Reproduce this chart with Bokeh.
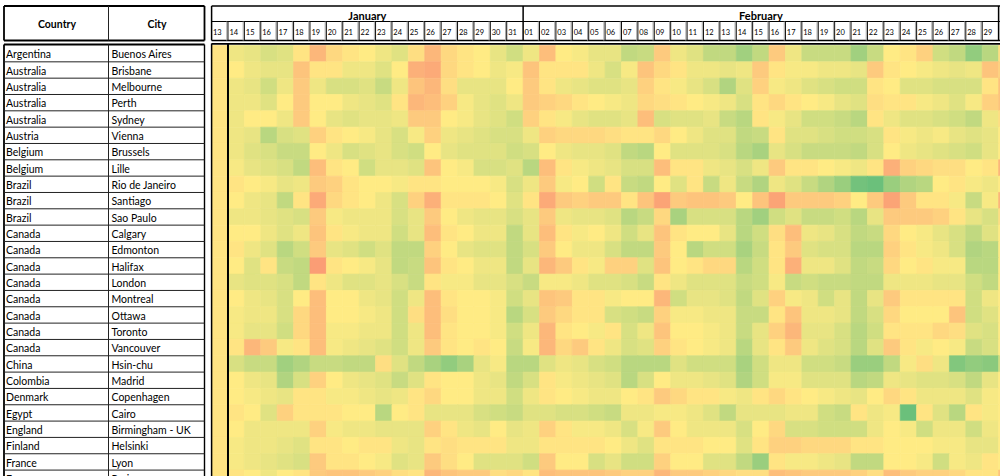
from bokeh.plotting import figure
from bokeh.models import Range1d, ColumnDataSource
from bokeh.embed import file_html
from bokeh.resources import INLINE
from bokeh.core.properties import value

# ---------------- data ----------------
countries = ["Argentina", "Australia", "Australia", "Australia", "Australia", "Austria",
             "Belgium", "Belgium", "Brazil", "Brazil", "Brazil", "Canada", "Canada",
             "Canada", "Canada", "Canada", "Canada", "Canada", "Canada", "China",
             "Colombia", "Denmark", "Egypt", "England", "Finland", "France", "France"]
cities = ["Buenos Aires", "Brisbane", "Melbourne", "Perth", "Sydney", "Vienna",
          "Brussels", "Lille", "Rio de Janeiro", "Santiago", "Sao Paulo", "Calgary",
          "Edmonton", "Halifax", "London", "Montreal", "Ottawa", "Toronto", "Vancouver",
          "Hsin-chu", "Madrid", "Copenhagen", "Cairo", "Birmingham - UK", "Helsinki",
          "Lyon", "Paris"]
months = ["January", "February"]
month_first_col = [0, 19]
month_last_col = [19, 48]
day_labels = ["13", "14", "15", "16", "17", "18", "19", "20", "21", "22", "23", "24",
              "25", "26", "27", "28", "29", "30", "31",
              "01", "02", "03", "04", "05", "06", "07", "08", "09", "10", "11", "12",
              "13", "14", "15", "16", "17", "18", "19", "20", "21", "22", "23", "24",
              "25", "26", "27", "28", "29",
              "01"]

# relative index per day (negative = cooler/green, positive = warmer/orange)
buenos_aires = [0.5, -1, -1.5, -2.5, -2, 0.5, 4, 1.5, 0.5, 0, -1, -2, 1, 4, 1.5, 0.5, 0, -1.5, -3,
                -1, 3.5, 0, -0.5, -1.5, -1.5, -4, -3.5, 2.5, -1, -2, -4, -4, -6, -4, 2.5, -1, -3.5, -3.5, -3.5, -6, -3.5, 0, 0.5, 2, -3, -4, -7, -4.5,
                1]
brisbane = [0.5, 0, -1, -1.5, -1.5, 3, 0.5, 0.5, -1, -1, -2, 0, 4.5, 5, 1.5, 0.5, 0, -1, -0.5,
            3, 0.5, 0.5, 0.5, -1, -2.5, -0.5, 3, 1.5, 0.5, -1, -1, -1.5, -1, 2.5, 0.5, -0.5, -0.5, -1, -1, -1.5, 2.5, 0.5, 0, -0.5, -1, -1.5, -1, 3,
            2]
melbourne = [0.5, -1, -1.5, -3, -1, 2.5, -1, -2.5, -2.5, -2, -3.5, -1, 3, 4, 1, -1.5, -1.5, -1.5, 0,
             2.5, 0.5, -1, -1.5, -2, -2, -1.5, 2, 0.5, -0.5, -1.5, -2.5, -5, -2, 2, -0.5, -1, -2, -2.5, -3, -3, 0.5, 0, -2, -2, -2.5, -2.5, -2.5, 0.5,
             3]
perth = [0.5, -1, -1, -2, 0, 2.5, 0, 0, -1, -1.5, -2, 0.5, 4, 3.5, 2, -0.5, -1.5, -2, -1,
         2.5, 2, 1.5, 0.5, 0, -0.5, -1, 1.5, 1, 0.5, 0, -0.5, -1, -2.5, 0.5, 1.5, 0.5, 0, -0.5, -1.5, -2, 1, 0.5, 0.5, -0.5, -1, -2, -0.5, 2,
         3]
sydney = [0.5, -1, 0, 0, -1, 2.5, 0, -1.5, -2, -1.5, -1.5, -1, 2.5, 2.5, 0, -0.5, -1.5, -2, -3,
          2, 0.5, -0.5, -1.5, -2, -2, -1.5, 3.5, -2.5, -2, -2, -1.5, -3.5, -4.5, 0.5, -0.5, -1.5, -3, -3, -3.5, -4.5, 0.5, -1, -2, -2, -2.5, -3, -4, -1,
          1]
vienna = [0.5, -1, -1.5, -4.5, -2.5, -2, 2, 0.5, 0, -0.5, -1.5, -2.5, -0.5, 2, -1, -1.5, -2, -2.5, -2.5,
          -1, 2, 1.5, 1.5, 1.5, 1, 0.5, 0.5, 1.5, 0, -1, -2, -2, -4, -3.5, 0.5, -2, -2, -2.5, -3, -3, -2.5, 0.5, -0.5, -1, -0.5, -1.5, -2, -1.5,
          0]
brussels = [0.5, -1, -2, -2.5, -3.5, -3.5, 0, -1, -2.5, -2, -1.5, -2.5, -3, 0, -1.5, -2, -2, -2, -3,
            -2.5, 0, -1, -1.5, -1.5, -2, -4, -4.5, 0, -2, -2, -2, -2.5, -4.5, -5.5, -1.5, -2.5, -3.5, -3.5, -3.5, -4, -2.5, 0, -1, -1.5, -2, -2.5, -3, -1.5,
            0]
lille = [0.5, -0.5, -1.5, -2, -2.5, -4, 3.5, 0.5, 0, -3, -1.5, -1.5, -2, 3, 0, -0.5, -2.5, -2.5, -2,
         -4.5, 3.5, 0.5, -0.5, -1, -1.5, -2.5, -2.5, 3.5, 0.5, 0.5, -1, -1.5, -2.5, -1, 2.5, 0.5, 0.5, 0, -0.5, -1, 0.5, 4.5, 2, 1.5, 1, 1, 0, 0.5,
         4]
rio_de_janeiro = [0.5, 0.5, 0, -0.5, -1.5, -1, 2.5, 2, 0.5, 0, 0, -0.5, 0.5, 0.5, 0, 0, 0, -0.5, -2.5,
                  -1, 2.5, -0.5, 0, -3, 0.5, -3.5, -4, 0, -2, 0.5, -3.5, -1, -3.5, -5, -1, -2, -3.5, -5, -6.5, -9, -9.5, -6.5, -5, -4.5, 0, 0.5, -0.5, -1,
                  0]
santiago = [0.5, 0, -1, -1.5, -4, 0.5, 5, 1.5, 0.5, 0, -1, -2.5, 2, 4.5, 0.5, 0.5, 0.5, 0, -2,
            0.5, 5, 2.5, 2, 2.5, 2.5, 0.5, 3, 5.5, 2.5, 3, 3, 2.5, 0, 3, 5.5, 2.5, 2.5, 2.5, 2, 0, 2.5, 5.5, 2.5, 0.5, 0.5, -0.5, -3.5, -0.5,
            4]
sao_paulo = [0.5, -1, -1, -1.5, -2, -2.5, 2.5, -0.5, -1, -1, -1, -2.5, -1.5, 2.5, 0, -1, -1.5, -1.5, -2.5,
             -1.5, 2.5, -1, -1.5, -1.5, -2, -4.5, -3.5, 1.5, -5.5, -2.5, -2.5, -2.5, -4.5, -6, -3, -2, -3.5, -3.5, -3, -4.5, -1.5, 2.5, 2.5, 2.5, 2, 0.5, -1.5, -2.5,
             1]
calgary = [0.5, 0, 0, -1, -2, -1, 3, 0.5, -0.5, -1, -1, -3, -1.5, 3.5, 0.5, 0, -1, -1, -4,
           -1.5, 3.5, 0.5, -0.5, 0, -1, -3, -1.5, 3, 0.5, 0, 0, -1.5, -4.5, -3, 1, 3.5, -1, -1.5, -2.5, -4, -3.5, 1.5, 0, -0.5, -1.5, -2.5, -4, -2,
           0]
edmonton = [0.5, 0.5, -1, -2, -4.5, -3, 2.5, -1.5, -2, -3, -2, -4, -4, 2, 0, -1.5, -2, -2, -4,
            -2.5, 2.5, 0, -1, -1, -2.5, -4, -4, 2.5, 0, -4.5, -3, -3, -5.5, -3.5, 0.5, 2.5, -2, -2.5, -2.5, -4.5, -4.5, 2, 0.5, -0.5, -1, -2.5, -5, -4.5,
            0]
halifax = [0.5, 0, -2, 0.5, -3.5, -4, 6, 0.5, 0, -0.5, -1.5, -4, -3.5, 3, 0.5, 0, -1, -1, -4,
           -1.5, 4, 2.5, 0.5, -0.5, 2, 2, -2, 3, 0, 0.5, 1.5, 1.5, -4.5, -3, 0.5, 4.5, -1, -1, -2, -4, -3.5, 1.5, 0, 0.5, -0.5, -0.5, -4.5, -4.5,
           0]
london = [0.5, -1.5, -2, -2, -2.5, -4, 0.5, -1, -2, -2, -1.5, -2.5, -3.5, 0.5, -0.5, -0.5, -1.5, -1.5, -2.5,
          -3.5, -0.5, -0.5, -1, -2, -2, -2.5, -3.5, 0.5, -1, -2, -2, -2, -3.5, -3, -0.5, -3.5, -3, -3.5, -3.5, -4, -4, -1, -1, -1, -1.5, -1.5, -3, -4,
          0]
montreal = [0.5, 0, -1, -1.5, -2.5, 0, 3.5, 0, 0, -1, -1.5, -3, -1, 3.5, 0.5, 0, 0, -0.5, -3,
            -1.5, 3, 2.5, 0.5, 0.5, -0.5, 0, 0, 4, -3, -1.5, -1.5, -2, -4, -2, 2, -0.5, -1, -3, -1.5, -4, -1.5, 2.5, 0.5, 0.5, 0.5, 0.5, -3, -1,
            0]
ottawa = [0.5, -0.5, -1, -1, -2.5, 1.5, 3.5, 0, 0, -0.5, -1, -3, 1, 3.5, 1, 0, 0, -0.5, -4.5,
          -2.5, 2.5, 1.5, 0.5, 0.5, -2.5, -3, -3.5, 2, -0.5, -0.5, -1, -1, -3.5, -3.5, 0.5, 3, -1, -1, -1.5, -4, -2.5, 1.5, 0, 0, 0, 3, -3, -2,
          0]
toronto = [0.5, -0.5, -1.5, -1.5, -3, 1.5, 3.5, -0.5, -0.5, -1, -1, -3, -1, 3.5, 0.5, 0, 0, -0.5, -3,
           -1, 4, 0.5, 0, -0.5, 0.5, -2.5, -1, 3, 0, 0, -0.5, -1, -3.5, -1.5, 2, 4, -1.5, -1.5, -2.5, -4.5, -3, 0.5, 0.5, 0.5, 1.5, 1, -2, -2.5,
           0]
vancouver = [0.5, 0.5, 4, 2.5, -0.5, 0.5, 3.5, -0.5, -1, -1.5, -2, -3, -1, 2.5, 0.5, 0, 0.5, 0, -3.5,
             -0.5, 4, 1.5, 2.5, 0.5, -1, -2.5, -2, 2, 0.5, 0, -0.5, -1, -4.5, -1.5, 0.5, 2.5, -1, -2, -2.5, -4.5, -2, 2.5, 0.5, -0.5, 0, -0.5, -3.5, -2.5,
             0]
hsin_chu = [0.5, -2.5, -3.5, -3.5, -6, -5, -3.5, -3.5, -4, -4, 1, -2, -4, -5.5, -7, -5.5, -1.5, -0.5, -4.5,
            -4.5, -2, -1, -1.5, -2.5, -3, -4.5, -4.5, -4.5, -2, -3, -3, -3, -5.5, -3, -1, -1, -3, -3, -3.5, -6.5, -6.5, -4, -0.5, 1, -1, -8, -7, -7.5,
            -3]
madrid = [0.5, 0, -1, -1.5, -5, -2.5, 2, 0, -1, -1.5, -2, -3.5, -2, 0.5, 0, 0, -1, -1.5, -4,
          -2.5, 0.5, -0.5, -1, -1.5, -2, -4.5, -2.5, 0, -1, -1, -1.5, -2, -5, -3, -0.5, -0.5, -2, -2, -2, -4.5, -4, -1, -1.5, -2, -2, -2.5, -4, -1.5,
          0]
copenhagen = [0.5, 0, -0.5, -1, -1.5, 0.5, 0.5, -0.5, -0.5, -1, -1.5, -1, 0.5, 1.5, 0, 0, -1, -1, -3,
              -1, 0.5, 0, -0.5, -1, -1, 0, 0.5, 2.5, 1.5, 0.5, 0.5, -0.5, -1, 0.5, 1.5, 0.5, 0, -0.5, -1, -1.5, 0, 1.5, 0.5, -1, -1, -1, -2, -0.5,
              0]
cairo = [0.5, 0.5, 0, -2, 2, 0.5, 0.5, 0.5, 0, 0, -4.5, 0, 0.5, -1.5, -1.5, -1.5, -2.5, -3, -3.5,
         -2, -2, -2.5, -2.5, -3, -3.5, -1, -1, -0.5, -0.5, -1, -2, -4, -1.5, -1.5, -1.5, -1, -1, -3, -3.5, 0.5, -1, -0.5, -9.5, 0.5, -2, -4.5, 0.5, -0.5,
         0]
birmingham = [0.5, 0, -1, -1, -1, -1, 2, -0.5, -1, -1, -1.5, -1.5, -1.5, 2, 0.5, -1, -1.5, 0, -1.5,
              -1, 2, 0.5, -0.5, -0.5, -1, -2.5, -0.5, 2.5, 0, -1, -1, -1, -2.5, 0, 1.5, -2.5, -2.5, -3, -3, -3, -1, 0, -0.5, -3, -1, -1, -3, -1,
              0]
helsinki = [0.5, -0.5, -1, -1, -1.5, -2, 0.5, 0.5, 0, 0.5, 0.5, -1, -1.5, 0.5, 1, 0.5, 0.5, 0.5, -1,
            -1, 0.5, 0.5, 0.5, 0.5, 0, -1, -2, 0.5, 0.5, 0.5, 0, 0, -2, 0.5, 2, 2, 1.5, 1.5, 1.5, 0.5, 0.5, 0, 0, 0, -0.5, -0.5, -1.5, -1.5,
            0]
lyon = [0.5, -0.5, -1, -1.5, -2, -2.5, 2.5, 0.5, 0.5, 0, -0.5, -2, -1.5, 2.5, 1, 0, -2, -2, -2,
        -3, 2.5, 0, 0, -2.5, -1.5, -3, -3, 2, 0, 0, -2, -2, -4, -6.5, 0.5, -0.5, -0.5, -1, -1.5, -4, -4, 0, 0, -0.5, -3, -0.5, -1, 0.5,
        0]
paris = [0.5, 0.5, 0, -1, 0, 0.5, 2.5, 3, 3, 2.5, 2, 1, 0.5, 4, 3, 2.5, 2.5, 1, 1.5,
         0.5, 3.5, 3, 3, 3, 2.5, 2, 2, 4, 2.5, 2.5, 2, 1.5, 1, 1, 3.5, 3, 2.5, 2.5, 2.5, 2, 1, 3.5, 2.5, 2, 2, 1.5, 0.5, 0.5,
         3]

rows = [buenos_aires, brisbane, melbourne, perth, sydney, vienna, brussels, lille,
        rio_de_janeiro, santiago, sao_paulo, calgary, edmonton, halifax, london, montreal,
        ottawa, toronto, vancouver, hsin_chu, madrid, copenhagen, cairo, birmingham,
        helsinki, lyon, paris]

# ---------------- colour scale (Excel 3-colour: green - yellow - red) ----------------
GREEN = (99, 190, 123)
YELLOW = (255, 235, 132)
RED = (248, 105, 107)
SCALE_MAX = 10.0


def scale_color(v):
    t = min(abs(v) / SCALE_MAX, 1.0)
    end = RED if v >= 0 else GREEN
    c = [round(YELLOW[k] + (end[k] - YELLOW[k]) * t) for k in range(3)]
    return "#%02x%02x%02x" % tuple(c)


# ---------------- layout (page pixels -> data units) ----------------
W, H = 1000, 476
X0, CW = 211.1, 16.396   # left of first day column, column width
Y0, RH = 45.0, 16.33     # top of first row, row height


def px_x(px):
    return (px - X0) / CW


def px_y(py):
    return (py - Y0) / RH


p = figure(width=W, height=H,
           x_range=Range1d(px_x(0), px_x(W)),
           y_range=Range1d(px_y(H), px_y(0)),
           output_backend="svg", toolbar_location=None,
           x_axis_type=None, y_axis_type=None, min_border=0)
p.grid.visible = False
p.outline_line_color = None
p.background_fill_color = "white"
p.border_fill_color = "white"

# heatmap cells
xs, ys, cols = [], [], []
for j, row in enumerate(rows):
    assert len(row) == len(day_labels), (cities[j], len(row))
    for i, v in enumerate(row):
        xs.append(i + 0.5)
        ys.append(j + 0.5)
        cols.append(scale_color(v))
src = ColumnDataSource(dict(x=xs, y=ys, c=cols))
p.rect(x="x", y="y", width=1, height=1, source=src,
       fill_color="c", line_color="c", line_width=0.7)

ncols = len(day_labels)
nrows = len(rows)
BLACK = "#000000"

# ---------- heatmap header ----------
hy_top, hy_mid, hy_bot = px_y(5.5), px_y(21), px_y(40)
p.segment(x0=[0, 0, 0], y0=[hy_top, hy_mid, hy_bot], x1=[ncols, ncols, ncols],
          y1=[hy_top, hy_mid, hy_bot], line_color=BLACK, line_width=[1.6, 1, 1.6])
msep = [0] + month_last_col
p.segment(x0=msep, y0=[hy_top] * len(msep), x1=msep, y1=[hy_bot] * len(msep),
          line_color=BLACK, line_width=1.5)
dsep = [i for i in range(1, ncols) if i not in msep]
p.segment(x0=[d - 1.2 / CW for d in dsep], y0=[hy_mid] * len(dsep),
          x1=[d - 1.2 / CW for d in dsep], y1=[hy_bot] * len(dsep),
          line_color="#a8a8a8", line_width=1)
p.segment(x0=dsep, y0=[hy_mid] * len(dsep), x1=dsep, y1=[hy_bot] * len(dsep),
          line_color="#111111", line_width=1)
p.text(x=[(a + b) / 2 for a, b in zip(month_first_col, month_last_col)],
       y=[px_y(14.8)] * len(months), text=months,
       text_font=value("Lato"), text_font_style="bold", text_font_size="11px",
       text_align="center", text_baseline="middle", text_color=BLACK)
p.text(x=[i + 1.4 / CW for i in range(ncols)], y=[px_y(31.8)] * ncols, text=day_labels,
       text_font=value("Lato"), text_font_size="7.5px",
       text_align="left", text_baseline="middle", text_color=BLACK)

# ---------- heatmap body borders ----------
p.segment(x0=[0], y0=[px_y(43.4)], x1=[ncols], y1=[px_y(43.4)], line_color=BLACK, line_width=1.6)
p.segment(x0=[0, 1], y0=[px_y(43), px_y(43)], x1=[0, 1], y1=[nrows, nrows],
          line_color=BLACK, line_width=[1.5, 2])

# ---------- left table ----------
TL, TC, TR = px_x(3.5), px_x(108), px_x(204)
p.segment(x0=[TL, TL], y0=[hy_top, hy_bot], x1=[TR, TR], y1=[hy_top, hy_bot],
          line_color=BLACK, line_width=1.8)
p.segment(x0=[TL, TR], y0=[hy_top, hy_top], x1=[TL, TR], y1=[hy_bot, hy_bot],
          line_color=BLACK, line_width=1.8)
p.segment(x0=[TC], y0=[hy_top], x1=[TC], y1=[hy_bot], line_color="#222222", line_width=1)
p.text(x=[px_x(56.5), px_x(156.5)], y=[px_y(23)] * 2, text=["Country", "City"],
       text_font=value("Lato"), text_font_style="bold", text_font_size="10.5px",
       text_align="center", text_baseline="middle", text_color=BLACK)
bt = px_y(44)
p.segment(x0=[TL], y0=[bt], x1=[TR], y1=[bt], line_color=BLACK, line_width=1.8)
p.segment(x0=[TL, TR], y0=[bt, bt], x1=[TL, TR], y1=[nrows, nrows],
          line_color=BLACK, line_width=[1.8, 1.4])
p.segment(x0=[TC], y0=[bt], x1=[TC], y1=[nrows], line_color="#222222", line_width=1)
rl = list(range(1, nrows + 1))
p.segment(x0=[TL] * len(rl), y0=rl, x1=[TR] * len(rl), y1=rl,
          line_color="#222222", line_width=1)
ty = [j + 0.5 + 0.8 / RH for j in range(nrows)]
p.text(x=[px_x(5.5)] * nrows, y=ty, text=countries,
       text_font=value("Lato"), text_font_size="10.5px",
       text_align="left", text_baseline="middle", text_color=BLACK)
p.text(x=[px_x(111)] * nrows, y=ty, text=cities,
       text_font=value("Lato"), text_font_size="10.5px",
       text_align="left", text_baseline="middle", text_color=BLACK)

open("out.html", "w").write(file_html(p, INLINE))
